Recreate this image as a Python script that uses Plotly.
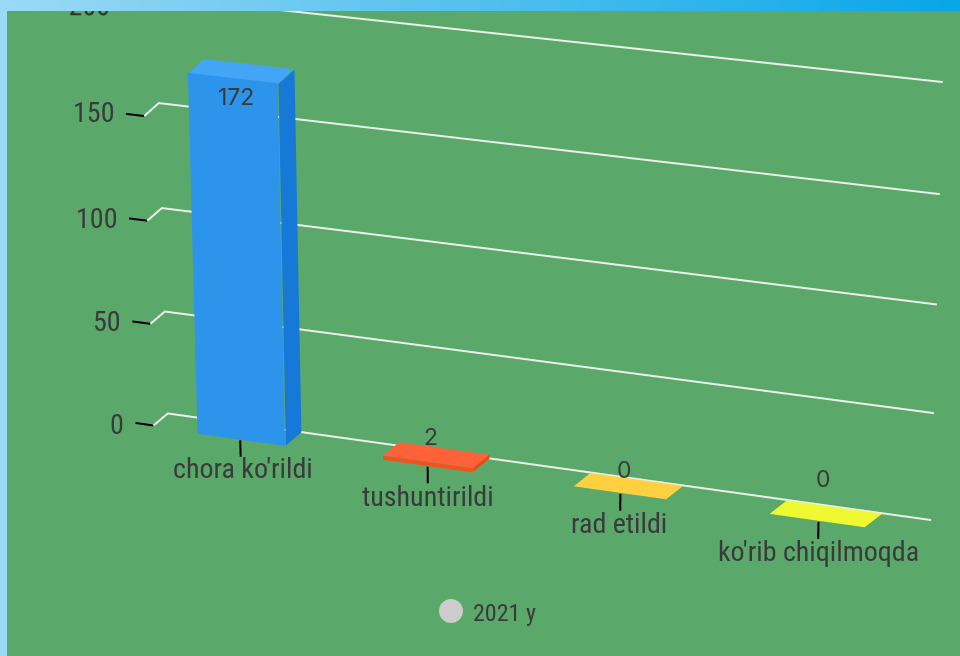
import numpy as np
import plotly.graph_objects as go

categories = ["chora ko'rildi", "tushuntirildi", "rad etildi", "ko'rib chiqilmoqda"]
values = [172, 2, 0, 0]
value_ticks = [0, 50, 100, 150, 200]
legend_name = "2021 y"

front_colors = ["#2D94EB", "#F4511E", "#FFD040", "#EEF932"]
top_colors = ["#42A5F5", "#FF6239", "#FFD040", "#EEF932"]
side_colors = ["#1679D8", "#E64A19", "#FFD040", "#EEF932"]

W, H = 960, 656
XR = [-1.5, 5.5]
YR = [0.0, 1.0]
ZR = [-12.0, 232.0]
AY = 0.01
AZ = 0.37765
EYE = dict(x=-0.01282, y=-0.58060, z=-0.02550)
CENTER = dict(x=-0.04937, y=0.05850, z=-0.06704)
UP = dict(x=-0.12651, y=0, z=1)
# flat extrusion offsets of the 2.5D look, and the tilt of the value direction
DXW, DZW = 0.07152, 6.9694
DXB, DZB = 0.075, 7.4578
SX = -0.001439


def ox(x, d, z, dx):
    return [a + dx * b + SX * c for a, b, c in zip(x, d, z)]


def oz(z, d, dz):
    return [a + dz * b for a, b in zip(z, d)]


fig = go.Figure()


def quad(xs, ds, zs, layer, color):
    return go.Mesh3d(x=ox(xs, ds, zs, DXB), y=[layer] * 4, z=oz(zs, ds, DZB),
                     i=[0, 0], j=[1, 2], k=[2, 3], color=color, flatshading=True,
                     lighting=dict(ambient=1, diffuse=0, specular=0, fresnel=0),
                     hoverinfo="skip", showscale=False)


for i, v in enumerate(values):
    x0, x1 = i + .262, i + .737
    fig.add_trace(quad([x1, x1, x1, x1], [0, 1, 1, 0], [0, 0, v, v], .5, side_colors[i]))
    fig.add_trace(quad([x0, x1, x1, x0], [0, 0, 1, 1], [v, v, v, v], .4, top_colors[i]))
    fig.add_trace(quad([x0, x1, x1, x0], [0, 0, 0, 0], [0, 0, v, v], .3, front_colors[i]))


def line(x, d, z, layer, color, width):
    fig.add_trace(go.Scatter3d(x=ox(x, d, z, DXW), y=[layer] * len(x), z=oz(z, d, DZW), mode="lines",
                               line=dict(color=color, width=width), hoverinfo="skip", showlegend=False))


for t in value_ticks:
    line([0, 0, 4.0], [0, 1, 1], [t, t, t], .9, "#E9F0EA", 4)
    line([-0.1, 0], [0, 0], [t, t], .9, "#000000", 4)
for i in range(len(categories)):
    line([i + .5, i + .5], [0, 0], [0, -8], .1, "#000000", 4)

FONT = "Roboto Condensed, Roboto"
TXT = "#3A3A3A"
fig.add_trace(go.Scatter3d(x=ox([-0.024], [0], [202], DXW), y=[.9], z=[202], mode="text", text=[str(value_ticks[-1])],
                           textposition="middle left", textfont=dict(family=FONT, size=28, color="#333333"),
                           hoverinfo="skip", showlegend=False))

ann = []
for t in value_ticks[:-1]:
    ann.append(dict(x=ox([-0.09], [0], [t], DXW)[0], y=.5, z=t, text=str(t), showarrow=False, xanchor="right",
                    yanchor="middle", xshift=-9, yshift=0, font=dict(family=FONT, size=28, color=TXT)))
cat_shift = [(0, 6), (-1, 4), (-1, 4), (2, 4)]
for i, c in enumerate(categories):
    ann.append(dict(x=ox([i + .5], [0], [-8], DXW)[0], y=.5, z=-8, text=c, showarrow=False, xanchor="center",
                    yanchor="top", xshift=cat_shift[i][0], yshift=cat_shift[i][1],
                    font=dict(family=FONT, size=28, color=TXT)))
label_shift = [(2, -18), (3, 24), (5, 22), (7, 41)]
for i, v in enumerate(values):
    ann.append(dict(x=ox([i + .5], [0], [v], DXB)[0], y=.5, z=v, text=str(v), showarrow=False, xanchor="center",
                    yanchor="middle", xshift=label_shift[i][0], yshift=label_shift[i][1],
                    font=dict(family="Inter", size=23, color=TXT)))

ax_off = dict(visible=False, showspikes=False)
fig.update_layout(
    width=W, height=H, margin=dict(l=0, r=0, t=0, b=0), paper_bgcolor="#5BA86B", showlegend=False,
    scene=dict(domain=dict(x=[0, 1], y=[0, 1]), bgcolor="rgba(0,0,0,0)",
               xaxis=dict(range=XR, **ax_off), yaxis=dict(range=YR, **ax_off), zaxis=dict(range=ZR, **ax_off),
               aspectmode="manual", aspectratio=dict(x=1, y=AY, z=AZ),
               camera=dict(eye=EYE, center=CENTER, up=UP, projection=dict(type="perspective")),
               annotations=ann, dragmode=False),
)

shapes = []
N = 48
c0 = np.array([0x9C, 0xDA, 0xF5])
c1 = np.array([0x08, 0xA6, 0xE8])
for i in range(N):
    c = c0 + (c1 - c0) * (i + .5) / N
    shapes.append(dict(type="rect", xref="paper", yref="paper", x0=i / N, x1=(i + 1) / N, y0=1 - 11 / H, y1=1,
                       line=dict(width=0), fillcolor="rgb(%d,%d,%d)" % tuple(c)))
shapes.append(dict(type="rect", xref="paper", yref="paper", x0=0, x1=7 / W, y0=0, y1=1 - 11 / H,
                   line=dict(width=0), fillcolor="#9CDAF5"))
shapes.append(dict(type="circle", xref="paper", yref="paper", x0=439 / W, x1=463 / W, y0=1 - 623 / H, y1=1 - 599 / H,
                   line=dict(width=0), fillcolor="#CCCCCC"))
fig.update_layout(shapes=shapes)
fig.add_annotation(xref="paper", yref="paper", x=471 / W, y=1 - 613 / H, text=legend_name, showarrow=False,
                   xanchor="left", yanchor="middle", font=dict(family=FONT, size=24, color=TXT))
fig.write_html("out.html", config=dict(displayModeBar=False),
               post_script="document.body.style.margin='0';document.documentElement.style.overflow='hidden';")
